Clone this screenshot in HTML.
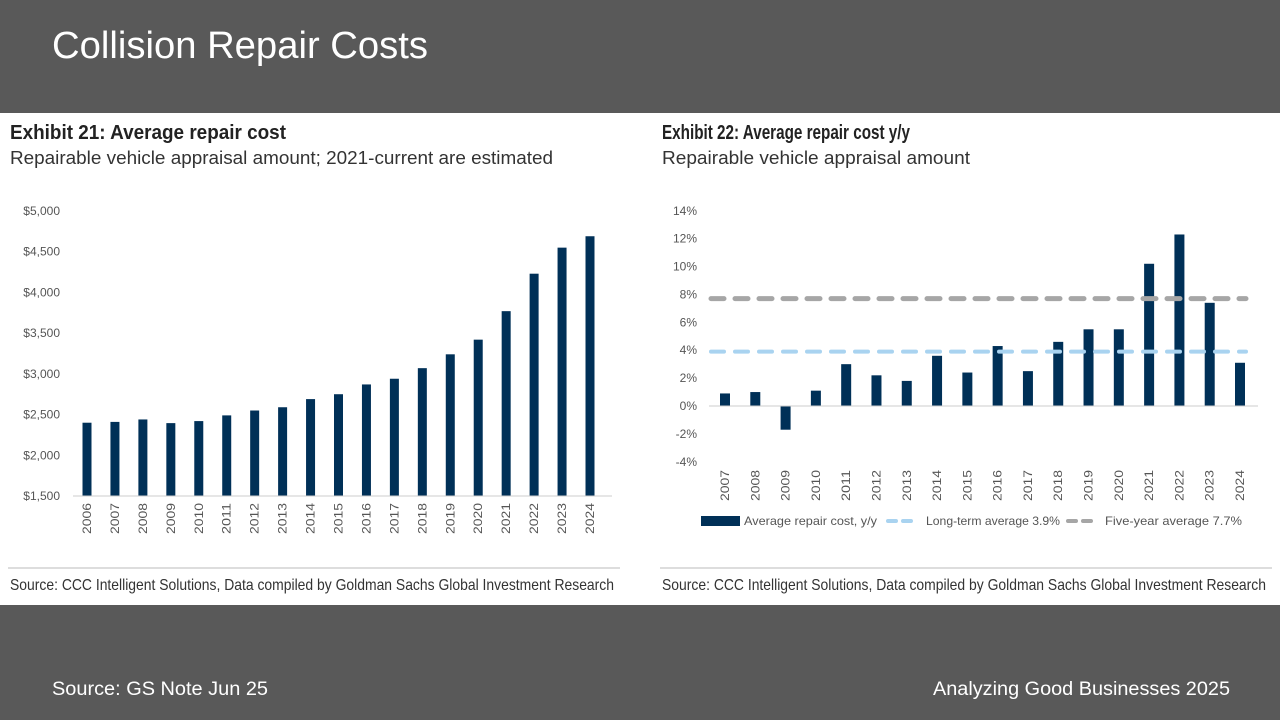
<!DOCTYPE html>
<html><head><meta charset="utf-8"><style>
body{margin:0;width:1280px;height:720px;overflow:hidden;background:#595959;font-family:"Liberation Sans",sans-serif}
svg{display:block}
</style></head><body>
<svg id="s" width="1280" height="720" xmlns="http://www.w3.org/2000/svg">
<rect x="0" y="0" width="1280" height="720" fill="#595959"/>
<text x="52" y="58" fill="#fff" font-size="38" font-family="Liberation Sans, sans-serif" textLength="376" lengthAdjust="spacingAndGlyphs">Collision Repair Costs</text>
<rect x="0" y="113" width="1280" height="492" fill="#fff"/>
<text x="52" y="695" fill="#fff" font-size="19" textLength="216" lengthAdjust="spacingAndGlyphs">Source: GS Note Jun 25</text>
<text x="933" y="695" fill="#fff" font-size="19" textLength="297" lengthAdjust="spacingAndGlyphs">Analyzing Good Businesses 2025</text>
<g fill="#222">
<text x="10" y="139" font-size="20" font-weight="bold" textLength="276" lengthAdjust="spacingAndGlyphs">Exhibit 21: Average repair cost</text>
<text x="10" y="164" font-size="18" fill="#333" textLength="543" lengthAdjust="spacingAndGlyphs">Repairable vehicle appraisal amount; 2021-current are estimated</text>
<text x="10" y="590" font-size="16" fill="#333" textLength="604" lengthAdjust="spacingAndGlyphs">Source: CCC Intelligent Solutions, Data compiled by Goldman Sachs Global Investment Research</text>
<text x="662" y="139" font-size="20" font-weight="bold" textLength="248" lengthAdjust="spacingAndGlyphs">Exhibit 22: Average repair cost y/y</text>
<text x="662" y="164" font-size="18" fill="#333" textLength="308" lengthAdjust="spacingAndGlyphs">Repairable vehicle appraisal amount</text>
<text x="662" y="590" font-size="16" fill="#333" textLength="604" lengthAdjust="spacingAndGlyphs">Source: CCC Intelligent Solutions, Data compiled by Goldman Sachs Global Investment Research</text>
</g>
<line x1="8" y1="568" x2="620" y2="568" stroke="#bbb" stroke-width="1"/>
<line x1="660" y1="568" x2="1272" y2="568" stroke="#bbb" stroke-width="1"/>
<g id="c1"></g>
<g id="c2"></g>
</svg>
<script>
const years1=["2006","2007","2008","2009","2010","2011","2012","2013","2014","2015","2016","2017","2018","2019","2020","2021","2022","2023","2024"];
const cost=[2400,2410,2440,2395,2420,2490,2550,2590,2690,2750,2870,2940,3070,3240,3420,3770,4230,4550,4690];
const ticks1=[1500,2000,2500,3000,3500,4000,4500,5000];
const years2=["2007","2008","2009","2010","2011","2012","2013","2014","2015","2016","2017","2018","2019","2020","2021","2022","2023","2024"];
const yoy=[0.9,1.0,-1.7,1.1,3.0,2.2,1.8,3.6,2.4,4.3,2.5,4.6,5.5,5.5,10.2,12.3,7.4,3.1];
const ticks2=[-4,-2,0,2,4,6,8,10,12,14];
const longAvg=3.9, fiveAvg=7.7;
const NS="http://www.w3.org/2000/svg";
function mk(p,t,a,txt){const e=document.createElementNS(NS,t);for(const k in a)e.setAttribute(k,a[k]);if(txt!==undefined)e.textContent=txt;p.appendChild(e);return e;}
const FN='"Liberation Sans",sans-serif';
// chart 1
const c1=document.getElementById('c1');
const y1=v=>496-(v-1500)*(285/3500);
const x1=i=>87+i*(503/18);
ticks1.forEach(t=>{
 const e=mk(c1,'text',{x:60,y:y1(t)+4,'font-size':12,fill:'#555','text-anchor':'end','font-family':FN},'$'+t.toLocaleString('en-US'));
 
 
});
cost.forEach((v,i)=>{
 const r=mk(c1,'rect',{x:x1(i)-4.5,y:y1(v),width:9,height:496-y1(v),fill:'#003057'});
 
 
 const t=mk(c1,'text',{transform:`translate(${x1(i)+4},503) rotate(-90)`,'font-size':12,fill:'#555','text-anchor':'end','font-family':FN,textLength:31,lengthAdjust:'spacingAndGlyphs'},years1[i]);
 
 
});
const ax1=mk(c1,'line',{x1:73,x2:612,y1:496,y2:496,stroke:'#ccc'});


// chart 2
const c2=document.getElementById('c2');
const y2=v=>406-v*(251/18);
const x2=i=>725+i*(515/17);
ticks2.forEach(t=>{
 const e=mk(c2,'text',{x:697,y:y2(t)+4,'font-size':12,fill:'#555','text-anchor':'end','font-family':FN},t+'%');
 
 
});
yoy.forEach((v,i)=>{
 const top=Math.min(y2(v),y2(0));
 const r=mk(c2,'rect',{x:x2(i)-5,y:top,width:10,height:Math.abs(y2(v)-y2(0)),fill:'#003057'});
 
 
 const t=mk(c2,'text',{transform:`translate(${x2(i)+4},470) rotate(-90)`,'font-size':12,fill:'#555','text-anchor':'end','font-family':FN,textLength:31,lengthAdjust:'spacingAndGlyphs'},years2[i]);
 
 
});
const ax2=mk(c2,'line',{x1:709,x2:1258,y1:y2(0),y2:y2(0),stroke:'#ccc'});


const l1=mk(c2,'line',{x1:711,x2:1246,y1:y2(fiveAvg),y2:y2(fiveAvg),stroke:'#a6a6a6','stroke-width':5,'stroke-dasharray':'13 11','stroke-linecap':'round'});


const l2=mk(c2,'line',{x1:711,x2:1246,y1:y2(longAvg),y2:y2(longAvg),stroke:'#a9d3f0','stroke-width':4,'stroke-dasharray':'13 11','stroke-linecap':'round'});


// legend
const lg=mk(c2,'g',{});


const lr=mk(lg,'rect',{x:701,y:516,width:39,height:10,fill:'#003057'});


const lt1=mk(lg,'text',{x:744,y:525,'font-size':12,fill:'#555','font-family':FN,textLength:133,lengthAdjust:'spacingAndGlyphs'},'Average repair cost, y/y');


const ls2=mk(lg,'line',{x1:888,x2:918,y1:521,y2:521,stroke:'#a9d3f0','stroke-width':4,'stroke-dasharray':'8 7','stroke-linecap':'round'});


const lt2=mk(lg,'text',{x:926,y:525,'font-size':12,fill:'#555','font-family':FN,textLength:134,lengthAdjust:'spacingAndGlyphs'},'Long-term average 3.9%');


const ls3=mk(lg,'line',{x1:1068,x2:1098,y1:521,y2:521,stroke:'#a6a6a6','stroke-width':4,'stroke-dasharray':'8 7','stroke-linecap':'round'});


const lt3=mk(lg,'text',{x:1105,y:525,'font-size':12,fill:'#555','font-family':FN,textLength:137,lengthAdjust:'spacingAndGlyphs'},'Five-year average 7.7%');


</script>
</body></html>
